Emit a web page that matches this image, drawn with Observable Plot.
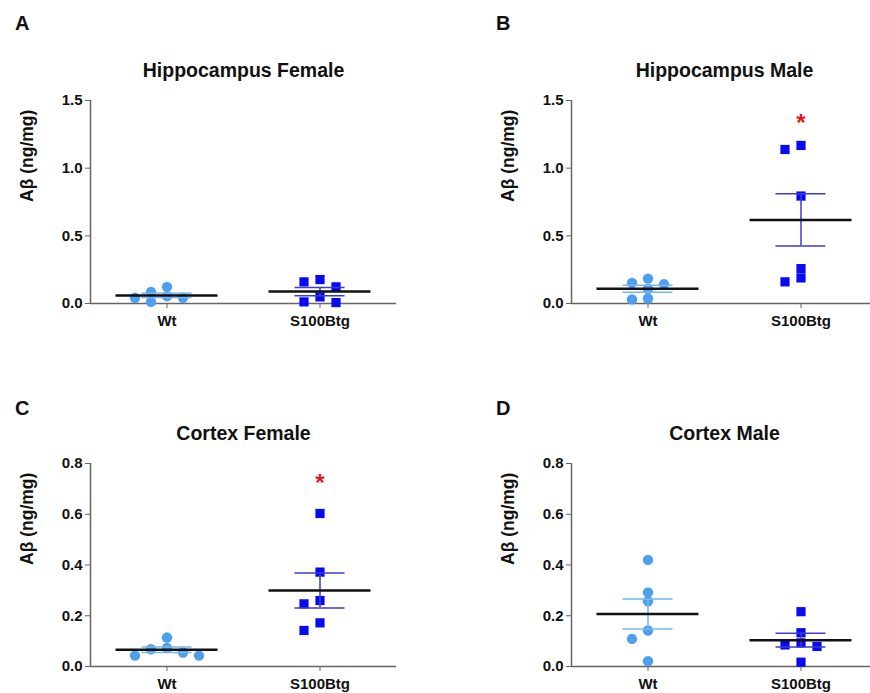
<!DOCTYPE html>
<html><head><meta charset="utf-8">
<script src="https://cdn.jsdelivr.net/npm/d3@7"></script>
<script src="https://cdn.jsdelivr.net/npm/@observablehq/plot@0.6"></script>
<style>
body{margin:0;width:870px;height:693px;overflow:hidden;background:#fff;position:relative;font-family:"Liberation Sans",Arial,sans-serif}
.panel{position:absolute;width:435px;height:300px}
.panel svg{max-width:none !important}
.letter{position:absolute;font-weight:bold;font-size:20px;line-height:20px;color:#111}
</style></head><body>
<script>
// ---- data ----
const groups = ["Wt", "S100Btg"];
const titles = ["Hippocampus Female", "Hippocampus Male", "Cortex Female", "Cortex Male"];
const letters = ["A", "B", "C", "D"];
const yLabel = "Aβ (ng/mg)";
const yTicksHippocampus = [0, 0.5, 1.0, 1.5];
const yTicksCortex = [0, 0.2, 0.4, 0.6, 0.8];

const hippoFemaleWt   = [0.086, 0.012, 0.054, 0.123, 0.042, 0.042];
const hippoFemaleTg   = [0.177, 0.007, 0.123, 0.049, 0.160, 0.012];
const hippoMaleWt     = [0.152, 0.030, 0.184, 0.108, 0.143, 0.037];
const hippoMaleTg     = [0.160, 1.138, 1.168, 0.794, 0.258, 0.189];
const cortexFemaleWt  = [0.043, 0.073, 0.114, 0.055, 0.068, 0.043];
const cortexFemaleTg  = [0.603, 0.372, 0.260, 0.247, 0.142, 0.172];
const cortexMaleWt    = [0.420, 0.292, 0.257, 0.142, 0.109, 0.021];
const cortexMaleTg    = [0.216, 0.133, 0.093, 0.085, 0.079, 0.017];

const significance = [null, 1.37, 0.74, null]; // red asterisk above S100Btg

// ---- layout / style ----
const W = 435, H = 300, mL = 90, mR = 39, mT = 60, mB = 37;
const plotW = W - mL - mR, plotH = H - mT - mB;
const pxX = plotW / 2; // x domain [-0.5, 1.5]
const panelPos = [[0, 40], [481, 40], [0, 403], [481, 403]];
const letterPos = [[15, 13], [496, 13], [15, 398], [496, 398]];
const FONT = "Liberation Sans, Arial, sans-serif";
const wtFill = "#4d9ff0", tgFill = "#0a0af0";
const wtBar = "#78b6f0", tgBar = "#3b3bd6";
const axisColor = "#666";

const panels = [
  {wt: hippoFemaleWt, tg: hippoFemaleTg, ticks: yTicksHippocampus},
  {wt: hippoMaleWt, tg: hippoMaleTg, ticks: yTicksHippocampus},
  {wt: cortexFemaleWt, tg: cortexFemaleTg, ticks: yTicksCortex},
  {wt: cortexMaleWt, tg: cortexMaleTg, ticks: yTicksCortex}
];

function swarm(values, pxPerUnit, spacing = 16, minDist = 8.5) {
  const order = d3.range(values.length).sort((a, b) => d3.descending(values[a], values[b]));
  const placed = [], off = new Array(values.length);
  for (const i of order) {
    const yi = values[i] * pxPerUnit;
    for (let k = 0; ; k++) {
      const c = k === 0 ? 0 : (k % 2 ? -Math.ceil(k / 2) : Math.ceil(k / 2));
      if (placed.every(p => Math.hypot((p.c - c) * spacing, p.y - yi) >= minDist)) {
        off[i] = c * spacing / pxX; placed.push({c, y: yi}); break;
      }
    }
  }
  return off;
}

panels.forEach((p, idx) => {
  const ymax = d3.max(p.ticks);
  const pxY = plotH / ymax;
  const pts = [];
  [p.wt, p.tg].forEach((vals, g) => {
    const off = swarm(vals, pxY);
    vals.forEach((v, i) => pts.push({g, x: g + off[i], y: v}));
  });
  const stats = [p.wt, p.tg].map((vals, g) => {
    const m = d3.mean(vals), se = d3.deviation(vals) / Math.sqrt(vals.length);
    return {g, mean: m, lo: m - se, hi: m + se};
  });
  const capW = 25 / pxX, meanW = 51 / pxX;
  const marks = [
    Plot.ruleY([0], {stroke: axisColor, strokeWidth: 1.5}),
    Plot.ruleX([-0.5], {stroke: axisColor, strokeWidth: 1.5}),
    Plot.axisX({ticks: [0, 1], tickFormat: i => groups[i], tickSize: 5, tickPadding: 7, stroke: axisColor, fill: "#111", fontSize: 15, fontWeight: "bold", label: null}),
    Plot.axisY({ticks: p.ticks, tickFormat: d3.format(".1f"), tickSize: 5, tickPadding: 3, stroke: axisColor, fill: "#111", fontSize: 15, fontWeight: "bold", label: null}),
    Plot.dot(pts.filter(d => d.g === 0), {x: "x", y: "y", r: 5.2, fill: wtFill, symbol: "circle"}),
    Plot.dot(pts.filter(d => d.g === 1), {x: "x", y: "y", r: 5.2, fill: tgFill, symbol: "square"}),
    Plot.ruleX(stats, {x: "g", y1: "lo", y2: "hi", stroke: d => d.g ? tgBar : wtBar, strokeWidth: 1.5}),
    Plot.ruleY(stats, {y: "lo", x1: d => d.g - capW, x2: d => d.g + capW, stroke: d => d.g ? tgBar : wtBar, strokeWidth: 1.5}),
    Plot.ruleY(stats, {y: "hi", x1: d => d.g - capW, x2: d => d.g + capW, stroke: d => d.g ? tgBar : wtBar, strokeWidth: 1.5}),
    Plot.ruleY(stats, {y: "mean", x1: d => d.g - meanW, x2: d => d.g + meanW, stroke: "#111", strokeWidth: 2.5}),
    Plot.text([titles[idx]], {frameAnchor: "top", lineAnchor: "bottom", dy: -24, fontSize: 19.5, fontWeight: "bold", fill: "#111"}),
    Plot.text([yLabel], {frameAnchor: "left", rotate: -90, dx: -63, fontSize: 17.5, fontWeight: "bold", fill: "#111"})
  ];
  if (significance[idx] != null) {
    marks.push(Plot.text([significance[idx]], {x: 1, y: d => d, text: () => "*", fill: "#e8141e", fontSize: 24, fontWeight: "bold", dy: 5}));
  }
  const svg = Plot.plot({
    width: W, height: H, marginLeft: mL, marginRight: mR, marginTop: mT, marginBottom: mB,
    x: {domain: [-0.5, 1.5], axis: null},
    y: {domain: [0, ymax], axis: null},
    style: {fontFamily: FONT, background: "transparent", overflow: "visible", maxWidth: "none"},
    marks
  });
  const div = document.createElement("div");
  div.className = "panel";
  div.style.left = panelPos[idx][0] + "px";
  div.style.top = panelPos[idx][1] + "px";
  div.appendChild(svg);
  document.body.appendChild(div);
  const L = document.createElement("div");
  L.className = "letter";
  L.textContent = letters[idx];
  L.style.left = letterPos[idx][0] + "px";
  L.style.top = letterPos[idx][1] + "px";
  document.body.appendChild(L);
});
</script>
</body></html>
